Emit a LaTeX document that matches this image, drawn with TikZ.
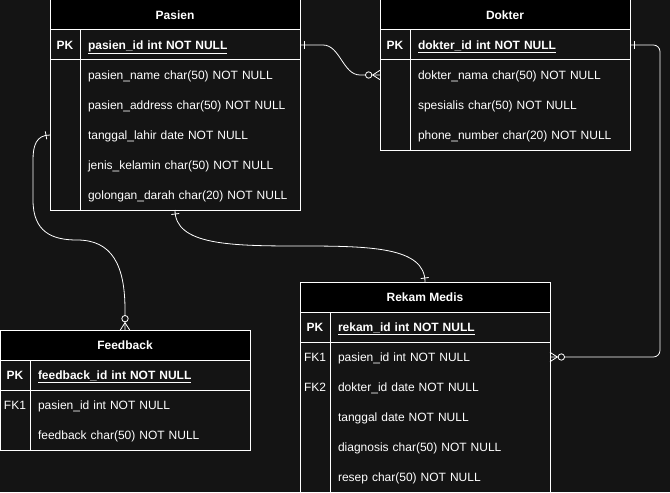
\documentclass[tikz,border=0pt]{standalone}
\usepackage{fontspec}
\setmainfont{Liberation Sans}
\usepackage{tikz}
\usetikzlibrary{positioning,calc,decorations.markings}
\definecolor{canvas}{HTML}{141414}

\tikzset{
  barstart/.style={postaction={decorate,decoration={markings,
    mark=at position 3pt with {\draw[white,line width=0.6pt] (0,-3pt) -- (0,3pt);}}}},
  barend/.style={postaction={decorate,decoration={markings,
    mark=at position -3pt with {\draw[white,line width=0.6pt] (0,-3pt) -- (0,3pt);}}}},
  manyend/.style={postaction={decorate,decoration={markings,
    mark=at position 1 with {\draw[white,line width=0.6pt] (-5.5pt,0) -- (0,3.5pt) (-5.5pt,0) -- (0,-3.5pt);
      \draw[white,line width=0.6pt,fill=canvas] (-8.5pt,0) circle (2.4pt);}}}}
}

\begin{document}
\begin{tikzpicture}[x=0.75pt,y=-0.75pt,
entity/.style={draw=white,line width=0.75pt,fill=canvas,minimum width=187.5pt,anchor=north west,inner sep=0pt,outer sep=0pt},
header/.style={draw=white,line width=0.75pt,fill=black,text=white,font=\fontsize{9pt}{11pt}\selectfont\bfseries,minimum width=187.5pt,minimum height=22.5pt,inner sep=0pt,outer sep=0pt,anchor=north west,text height=7.35pt,text depth=1.25pt},
keycell/.style={text=white,font=\fontsize{9pt}{11pt}\selectfont,minimum width=22.5pt,minimum height=22.5pt,inner sep=0pt,outer sep=0pt,text height=7.35pt,text depth=1.25pt},
pkcell/.style={keycell,font=\fontsize{9pt}{11pt}\selectfont\bfseries},
field/.style={text=white,font=\fontsize{9pt}{11pt}\selectfont,text width=153pt,align=left,minimum height=22.5pt,inner xsep=6pt,inner ysep=0pt,outer sep=0pt,text height=7.35pt,text depth=1.25pt},
pkfield/.style={field,font=\fontsize{9pt}{11pt}\selectfont\bfseries},
divider/.style={draw=white,line width=0.75pt},
link/.style={draw=white,line width=0.6pt}
]
\useasboundingbox (0,0) rectangle (670,492);
\fill[canvas] (0,0) rectangle (670,492);

% Pasien
\node[entity,minimum height=157.5pt] (pasien) at (50,0) {};
\node[header] (pasienhead) at (pasien.north west) {Pasien};
\node[pkcell,below right=0pt and 0pt of pasienhead.south west] (pasienpk) {PK};
\node[pkfield,right=0pt of pasienpk] (pasienid) {\underline{pasien\_id int NOT NULL}};
\node[field,below=0pt of pasienid] (pasienname) {pasien\_name char(50) NOT NULL};
\node[field,below=0pt of pasienname] (pasienaddr) {pasien\_address char(50) NOT NULL};
\node[field,below=0pt of pasienaddr] (pasientgl) {tanggal\_lahir date NOT NULL};
\node[field,below=0pt of pasientgl] (pasienjk) {jenis\_kelamin char(50) NOT NULL};
\node[field,below=0pt of pasienjk] (pasiengol) {golongan\_darah char(20) NOT NULL};
\draw[divider] (pasien.west |- pasienpk.south) -- (pasien.east |- pasienpk.south);
\draw[divider] (pasienpk.north east) -- (pasienpk.east |- pasien.south);

% Dokter
\node[entity,minimum height=112.5pt] (dokter) at (380,0) {};
\node[header] (dokterhead) at (dokter.north west) {Dokter};
\node[pkcell,below right=0pt and 0pt of dokterhead.south west] (dokterpk) {PK};
\node[pkfield,right=0pt of dokterpk] (dokterid) {\underline{dokter\_id int NOT NULL}};
\node[field,below=0pt of dokterid] (dokternama) {dokter\_nama char(50) NOT NULL};
\node[field,below=0pt of dokternama] (dokterspes) {spesialis char(50) NOT NULL};
\node[field,below=0pt of dokterspes] (dokterphone) {phone\_number char(20) NOT NULL};
\draw[divider] (dokter.west |- dokterpk.south) -- (dokter.east |- dokterpk.south);
\draw[divider] (dokterpk.north east) -- (dokterpk.east |- dokter.south);

% Rekam Medis
\node[entity,minimum height=157.5pt] (rekam) at (300,282) {};
\node[header] (rekamhead) at (rekam.north west) {Rekam Medis};
\node[pkcell,below right=0pt and 0pt of rekamhead.south west] (rekampk) {PK};
\node[pkfield,right=0pt of rekampk] (rekamid) {\underline{rekam\_id int NOT NULL}};
\node[field,below=0pt of rekamid] (rekampasien) {pasien\_id int NOT NULL};
\node[field,below=0pt of rekampasien] (rekamdokter) {dokter\_id date NOT NULL};
\node[field,below=0pt of rekamdokter] (rekamtgl) {tanggal date NOT NULL};
\node[field,below=0pt of rekamtgl] (rekamdiag) {diagnosis char(50) NOT NULL};
\node[field,below=0pt of rekamdiag] (rekamresep) {resep char(50) NOT NULL};
\node[keycell,left=0pt of rekampasien] (rekamfk1) {FK1};
\node[keycell,left=0pt of rekamdokter] (rekamfk2) {FK2};
\draw[divider] (rekam.west |- rekampk.south) -- (rekam.east |- rekampk.south);
\draw[divider] (rekampk.north east) -- (rekampk.east |- rekam.south);

% Feedback
\node[entity,minimum height=90pt] (feedback) at (0,330) {};
\node[header] (feedbackhead) at (feedback.north west) {Feedback};
\node[pkcell,below right=0pt and 0pt of feedbackhead.south west] (feedbackpk) {PK};
\node[pkfield,right=0pt of feedbackpk] (feedbackid) {\underline{feedback\_id int NOT NULL}};
\node[field,below=0pt of feedbackid] (feedbackpasien) {pasien\_id int NOT NULL};
\node[field,below=0pt of feedbackpasien] (feedbacktext) {feedback char(50) NOT NULL};
\node[keycell,left=0pt of feedbackpasien] (feedbackfk1) {FK1};
\draw[divider] (feedback.west |- feedbackpk.south) -- (feedback.east |- feedbackpk.south);
\draw[divider] (feedbackpk.north east) -- (feedbackpk.east |- feedback.south);

% relations
\draw[link,barstart,manyend] (pasien.east |- pasienid) -- ++(23,0)
  .. controls +(17,0) and +(-17,0) .. ($(dokter.west |- dokternama)+(-20,0)$)
  -- (dokter.west |- dokternama);
\draw[link,barstart,manyend] (pasien.west |- pasientgl)
  .. controls +(-14,0) and +(0,-14) .. ++(-17,25) -- ++(0,40)
  .. controls +(0,32) and +(-25,0) .. ++(44,40)
  .. controls +(35,0) and +(0,-45) .. ++(48,70) -- (feedbackhead.north);
\draw[link,barstart,barend] (pasien.south)
  .. controls +(0,35) and +(-70,0) .. ($(pasien.south)!.5!(rekamhead.north)$)
  .. controls +(70,0) and +(0,-35) .. (rekamhead.north);
\draw[link,rounded corners=5pt,barstart,manyend] (dokter.east |- dokterid) -- ++(30,0)
  |- (rekam.east |- rekampasien);
\end{tikzpicture}
\end{document}
